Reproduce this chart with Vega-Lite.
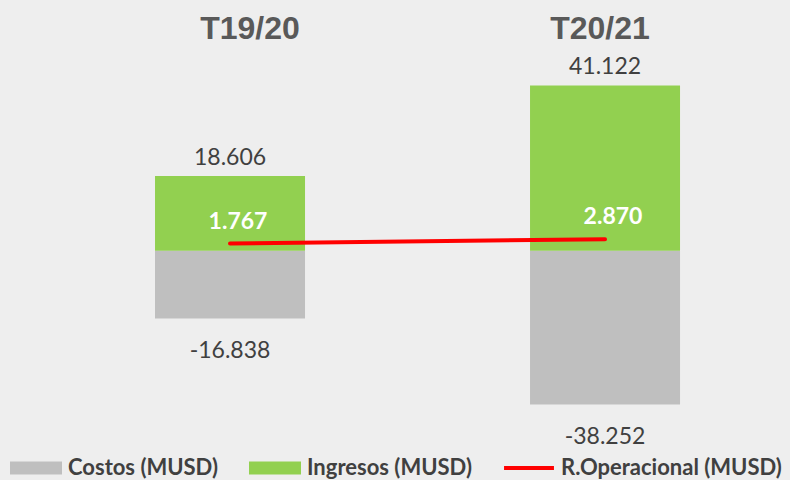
{
  "$schema": "https://vega.github.io/schema/vega-lite/v6.json",
  "width": 790,
  "height": 390,
  "autosize": {"type": "none"},
  "padding": {"left": 0, "right": 0, "top": 50, "bottom": 40},
  "background": "#EEEEEE",
  "data": {
    "values": [
      {"periodo": "T19/20", "serie": "Costos (MUSD)", "valor": -16838},
      {"periodo": "T19/20", "serie": "Ingresos (MUSD)", "valor": 18606},
      {"periodo": "T19/20", "serie": "R.Operacional (MUSD)", "valor": 1767},
      {"periodo": "T20/21", "serie": "Costos (MUSD)", "valor": -38252},
      {"periodo": "T20/21", "serie": "Ingresos (MUSD)", "valor": 41122},
      {"periodo": "T20/21", "serie": "R.Operacional (MUSD)", "valor": 2870}
    ]
  },
  "encoding": {
    "x": {
      "field": "periodo",
      "type": "nominal",
      "sort": ["T19/20", "T20/21"],
      "scale": {"type": "band", "paddingInner": 0.6, "paddingOuter": 0.3533, "align": 0.585},
      "axis": {
        "orient": "top",
        "title": null,
        "domain": false,
        "ticks": false,
        "tickSize": 0,
        "grid": false,
        "labelAngle": 0,
        "labelFont": "Liberation Sans",
        "labelFontWeight": "bold",
        "labelFontSize": 32,
        "labelColor": "#595959",
        "labelBaseline": "alphabetic",
        "labelPadding": 12,
        "labelOffset": {"condition": {"test": "datum.value === 'T19/20'", "value": 20}, "value": -5}
      }
    },
    "y": {
      "field": "valor",
      "type": "quantitative",
      "scale": {"domain": [-47090, 49925], "nice": false, "zero": false},
      "axis": null
    }
  },
  "layer": [
    {
      "transform": [{"filter": "datum.serie !== 'R.Operacional (MUSD)'"}],
      "mark": {"type": "bar"},
      "encoding": {
        "y": {"field": "valor", "type": "quantitative", "stack": null},
        "color": {
          "field": "serie",
          "type": "nominal",
          "scale": {
            "domain": ["Costos (MUSD)", "Ingresos (MUSD)", "R.Operacional (MUSD)"],
            "range": ["#BFBFBF", "#92D050", "#FF0000"]
          },
          "legend": {
            "orient": "none",
            "legendX": 10,
            "legendY": 392,
            "direction": "horizontal",
            "title": null,
            "labelFont": "Lato",
            "labelFontWeight": "bold",
            "labelFontSize": 22,
            "labelColor": "#404040",
            "labelLimit": 0,
            "labelOffset": 6,
            "columnPadding": 31,
            "symbolSize": 2704,
            "symbolStrokeWidth": 0,
            "symbolOpacity": 1,
            "encode": {
              "symbols": {
                "update": {
                  "shape": {"signal": "datum.value === 'R.Operacional (MUSD)' ? 'M-0.96,-0.077H0.96V0.077H-0.96Z' : 'M-1,-0.25H1V0.25H-1Z'"},
                  "fill": {"scale": "color", "field": "value"},
                  "strokeWidth": {"value": 0}
                }
              }
            }
          }
        }
      }
    },
    {
      "transform": [{"filter": "datum.serie === 'R.Operacional (MUSD)'"}],
      "mark": {"type": "line", "strokeWidth": 4, "strokeCap": "round"},
      "encoding": {
        "color": {"field": "serie", "type": "nominal"}
      }
    },
    {
      "transform": [{"filter": "datum.serie === 'Ingresos (MUSD)'"}],
      "mark": {"type": "text", "font": "Lato", "fontSize": 23, "color": "#404040", "baseline": "alphabetic", "dy": -11},
      "encoding": {
        "text": {"field": "valor", "type": "quantitative", "format": ",d"}
      }
    },
    {
      "transform": [{"filter": "datum.serie === 'Costos (MUSD)'"}],
      "mark": {"type": "text", "font": "Lato", "fontSize": 23, "color": "#404040", "baseline": "alphabetic", "dy": 40},
      "encoding": {
        "text": {"field": "valor", "type": "quantitative", "format": ",d"}
      }
    },
    {
      "transform": [{"filter": "datum.serie === 'R.Operacional (MUSD)'"}],
      "mark": {"type": "text", "font": "Lato", "fontSize": 23, "fontWeight": "bold", "color": "#FFFFFF", "baseline": "alphabetic", "dy": -15, "dx": 8},
      "encoding": {
        "text": {"field": "valor", "type": "quantitative", "format": ",d"}
      }
    }
  ],
  "config": {
    "view": {"stroke": null},
    "locale": {
      "number": {"decimal": ",", "thousands": ".", "grouping": [3], "currency": ["$", ""], "minus": "-"}
    }
  }
}
